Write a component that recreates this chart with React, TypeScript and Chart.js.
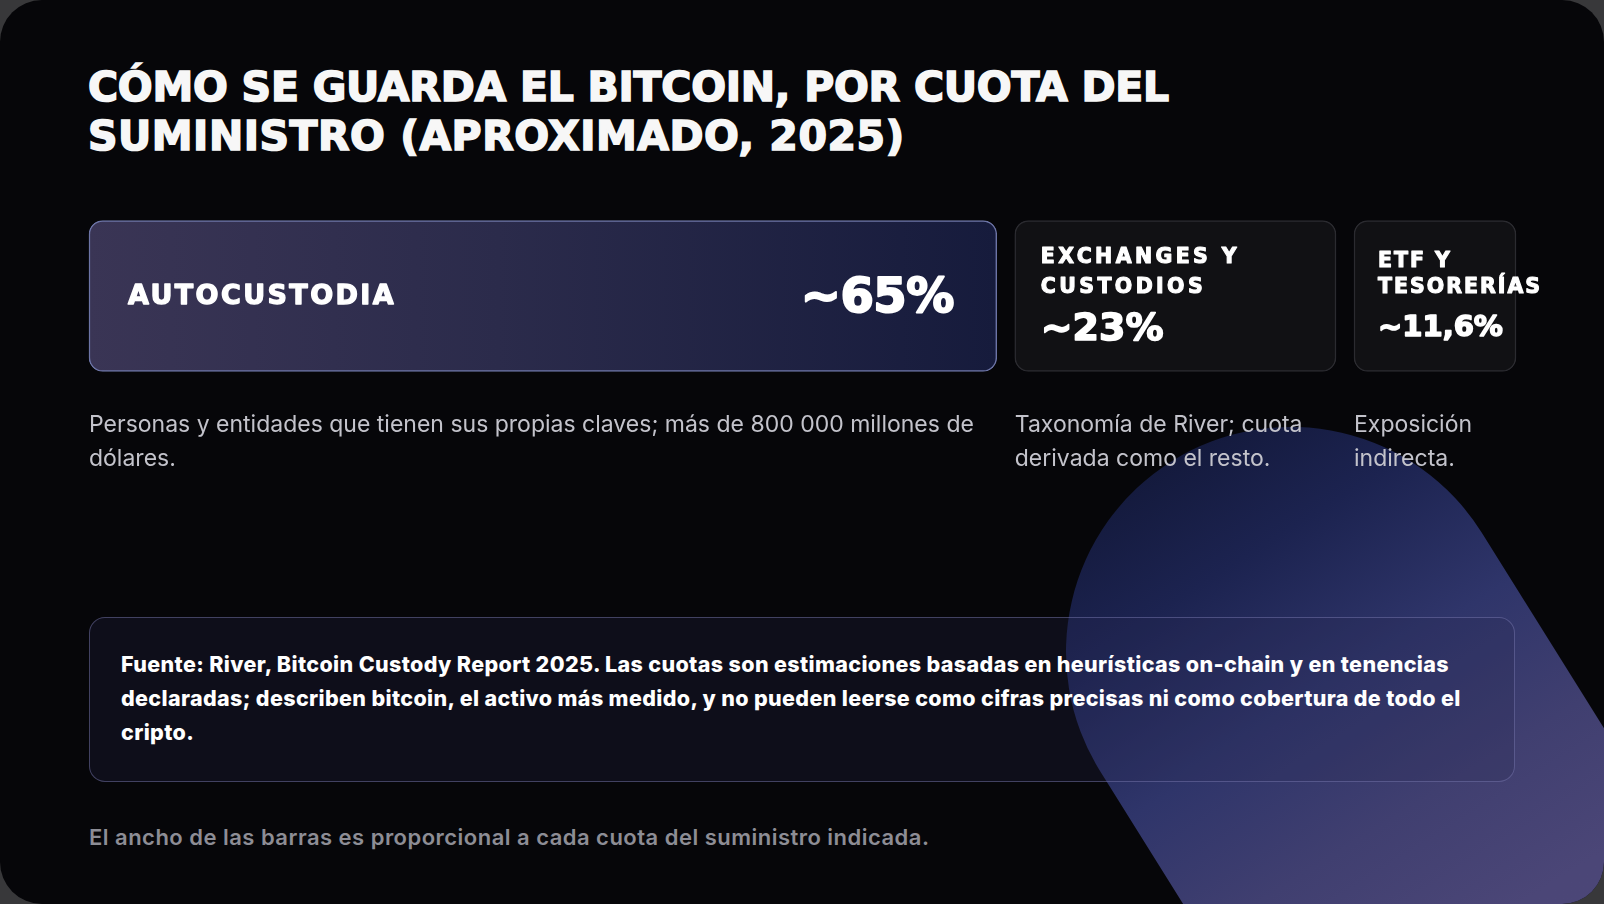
import React, { useEffect, useRef } from 'react';
import { Chart, registerables } from 'chart.js';

Chart.register(...registerables);

const ROW_LABELS = ['Cuota del suministro'];
const CATEGORIES = ['AUTOCUSTODIA', 'EXCHANGES Y CUSTODIOS', 'ETF Y TESORERÍAS'];
const SHARES = [65, 23, 11.6];
const SHARE_LABELS = ['~65%', '~23%', '~11,6%'];
const DESCRIPTIONS = [
  'Personas y entidades que tienen sus propias claves; más de 800 000 millones de dólares.',
  'Taxonomía de River; cuota derivada como el resto.',
  'Exposición indirecta.',
];
const TITLE_LINES = ['CÓMO SE GUARDA EL BITCOIN, POR CUOTA DEL', 'SUMINISTRO (APROXIMADO, 2025)'];
const SOURCE_LINES = [
  'Fuente: River, Bitcoin Custody Report 2025. Las cuotas son estimaciones basadas en heurísticas on-chain y en tenencias',
  'declaradas; describen bitcoin, el activo más medido, y no pueden leerse como cifras precisas ni como cobertura de todo el',
  'cripto.',
];
const FOOTNOTE = 'El ancho de las barras es proporcional a cada cuota del suministro indicada.';

const STARTS = SHARES.map((_, i) => SHARES.slice(0, i).reduce((a, b) => a + b, 0));
const TOTAL = SHARES.reduce((a, b) => a + b, 0);

const GAP = 18;
const WIDE = "'DejaVu Sans', sans-serif";
const BODY = "Inter, 'Noto Sans', sans-serif";

function wrap(ctx: CanvasRenderingContext2D, text: string, maxW: number): string[] {
  const words = text.split(' ');
  const lines: string[] = [];
  let cur = '';
  for (const w of words) {
    const test = cur ? cur + ' ' + w : w;
    if (cur && ctx.measureText(test).width > maxW) {
      lines.push(cur);
      cur = w;
    } else cur = test;
  }
  if (cur) lines.push(cur);
  return lines;
}

function heavyText(ctx: CanvasRenderingContext2D, t: string, x: number, y: number, sw: number) {
  ctx.lineWidth = sw;
  ctx.lineJoin = 'round';
  ctx.strokeStyle = ctx.fillStyle as string;
  ctx.strokeText(t, x, y);
  ctx.fillText(t, x, y);
}

const gapPlugin = {
  id: 'gapPlugin',
  afterDatasetsUpdate(chart: any) {
    chart.data.datasets.forEach((_: any, i: number) => {
      const meta = chart.getDatasetMeta(i);
      meta.data.forEach((el: any) => {
        el.x += i * GAP;
        el.base += i * GAP;
      });
    });
  },
};

const labelPlugin = {
  id: 'labelPlugin',
  afterDatasetsDraw(chart: any) {
    const ctx: CanvasRenderingContext2D = chart.ctx;
    chart.data.datasets.forEach((ds: any, i: number) => {
      const el = chart.getDatasetMeta(i).data[0];
      if (!el) return;
      const left = Math.min(el.x, el.base);
      const right = Math.max(el.x, el.base);
      const w = right - left;
      const cy = el.y;
      const bottom = cy + el.height / 2;
      ctx.save();
      ctx.fillStyle = '#ffffff';
      ctx.textBaseline = 'alphabetic';
      if (w > 500) {
        ctx.font = `bold 27px ${WIDE}`;
        (ctx as any).letterSpacing = '2.4px';
        ctx.textAlign = 'left';
        heavyText(ctx, CATEGORIES[i], left + 39, cy - 1.5 + 9.8, 1.3);
        ctx.font = `bold 48px ${WIDE}`;
        (ctx as any).letterSpacing = '-0.5px';
        ctx.textAlign = 'right';
        heavyText(ctx, SHARE_LABELS[i], right - 43, cy - 2 + 17.5, 2);
      } else {
        const mid = w > 250;
        const pitch = mid ? 30 : 26;
        const vSize = mid ? 38 : 29;
        const vCap = vSize * 0.729;
        const gap = mid ? 20 : 22;
        const nCap = 15;
        const pad = mid ? 26 : 24;
        ctx.font = `bold 20.5px ${WIDE}`;
        (ctx as any).letterSpacing = mid ? '3.4px' : '2px';
        const lines = wrap(ctx, CATEGORIES[i], w - 2 * pad);
        const H = (lines.length - 1) * pitch + nCap + gap + vCap;
        const top = cy - 2 - H / 2;
        ctx.textAlign = 'left';
        lines.forEach((ln, k) => heavyText(ctx, ln, left + pad, top + nCap + k * pitch, 1.1));
        ctx.font = `bold ${vSize}px ${WIDE}`;
        (ctx as any).letterSpacing = '0px';
        heavyText(ctx, SHARE_LABELS[i], left + pad, top + H, 1.6);
      }
      // description under the bar
      ctx.font = `23px ${BODY}`;
      (ctx as any).letterSpacing = '0px';
      ctx.fillStyle = '#c3c3cb';
      ctx.textAlign = 'left';
      const dl = wrap(ctx, DESCRIPTIONS[i], w + 10);
      dl.forEach((ln, k) => ctx.fillText(ln, left, bottom + 60.5 + k * 34));
      ctx.restore();
    });
  },
};

export default function App() {
  const ref = useRef<HTMLCanvasElement | null>(null);

  useEffect(() => {
    const canvas = ref.current;
    if (!canvas) return;
    const chart = new Chart(canvas, {
      type: 'bar',
      data: {
        labels: ROW_LABELS,
        datasets: SHARES.map((v, i) => ({
          label: CATEGORIES[i],
          data: [[STARTS[i], STARTS[i] + v]] as any,
          grouped: false,
          clip: false as any,
          barThickness: 151,
          borderRadius: 14,
          borderSkipped: false,
          borderWidth: 1.5,
          borderColor: i === 0 ? '#6c74a6' : '#2b2b30',
          backgroundColor: (c: any) => {
            if (i !== 0) return '#111114';
            const ch = c.chart;
            const xs = ch.scales && ch.scales.x;
            if (!ch.chartArea || !xs) return '#2c2c4a';
            const x0 = xs.getPixelForValue(STARTS[i]) + i * GAP;
            const x1 = xs.getPixelForValue(STARTS[i] + v) + i * GAP;
            const g = ch.ctx.createLinearGradient(x0, 0, x1, 0);
            g.addColorStop(0, '#3a3555');
            g.addColorStop(0.45, '#2b2b4b');
            g.addColorStop(1, '#161b3c');
            return g;
          },
        })),
      },
      options: {
        indexAxis: 'y',
        responsive: false,
        animation: false,
        devicePixelRatio: 1,
        events: [],
        clip: false as any,
        layout: { padding: { left: 89, right: 1604 - 89 - 1391, top: 20.5, bottom: 118.5 } },
        plugins: { legend: { display: false }, tooltip: { enabled: false }, title: { display: false } },
        scales: {
          x: { type: 'linear', min: 0, max: TOTAL, display: false },
          y: { display: false },
        },
      },
      plugins: [gapPlugin, labelPlugin],
    });
    return () => chart.destroy();
  }, []);

  return (
    <div style={{ position: 'fixed', left: 0, top: 0, width: 1604, height: 904, background: '#38383a', overflow: 'hidden' }}>
      <div style={{ position: 'absolute', left: 0, top: 0, width: 1604, height: 904, borderRadius: 42, background: '#060609', overflow: 'hidden' }}>
        <div
          style={{
            position: 'absolute',
            left: 1066,
            top: 427,
            width: 450,
            height: 1200,
            borderRadius: 225,
            transformOrigin: '225px 225px',
            transform: 'rotate(-32deg)',
            background:
              'linear-gradient(180deg, #141a3d 0px, #1c2350 120px, #2f356a 280px, #403f70 420px, #4b4677 560px, #4d4779 1200px)',
          }}
        />
        <div
          style={{
            position: 'absolute',
            left: 88,
            top: 63,
            fontFamily: WIDE,
            fontWeight: 'bold',
            fontSize: 41,
            lineHeight: '49px',
            letterSpacing: '-0.25px',
            color: '#f7f7f7',
            WebkitTextStroke: '1.6px #f7f7f7',
            whiteSpace: 'nowrap',
          }}
        >
          {TITLE_LINES.map((t, i) => (
            <div key={i} style={i === 1 ? { letterSpacing: '0.5px' } : undefined}>{t}</div>
          ))}
        </div>
        <canvas ref={ref} width={1604} height={290} style={{ position: 'absolute', left: 0, top: 200, width: 1604, height: 290 }} />
        <div
          style={{
            position: 'absolute',
            left: 89,
            top: 617,
            width: 1426,
            height: 165,
            boxSizing: 'border-box',
            borderRadius: 16,
            border: '1.5px solid rgba(128,128,185,0.45)',
            background: 'rgba(40,40,80,0.25)',
            padding: '29px 0 0 31px',
            fontFamily: BODY,
            fontWeight: 800,
            fontSize: 21.5,
            lineHeight: '34px',
            letterSpacing: '0.36px',
            color: '#ffffff',
            whiteSpace: 'nowrap',
          }}
        >
          {SOURCE_LINES.map((t, i) => (
            <div key={i}>{t}</div>
          ))}
        </div>
        <div
          style={{
            position: 'absolute',
            left: 89,
            top: 823,
            fontFamily: BODY,
            fontWeight: 600,
            fontSize: 22,
            lineHeight: '28px',
            letterSpacing: '0.48px',
            color: '#8d8d95',
            whiteSpace: 'nowrap',
          }}
        >
          {FOOTNOTE}
        </div>
      </div>
    </div>
  );
}
